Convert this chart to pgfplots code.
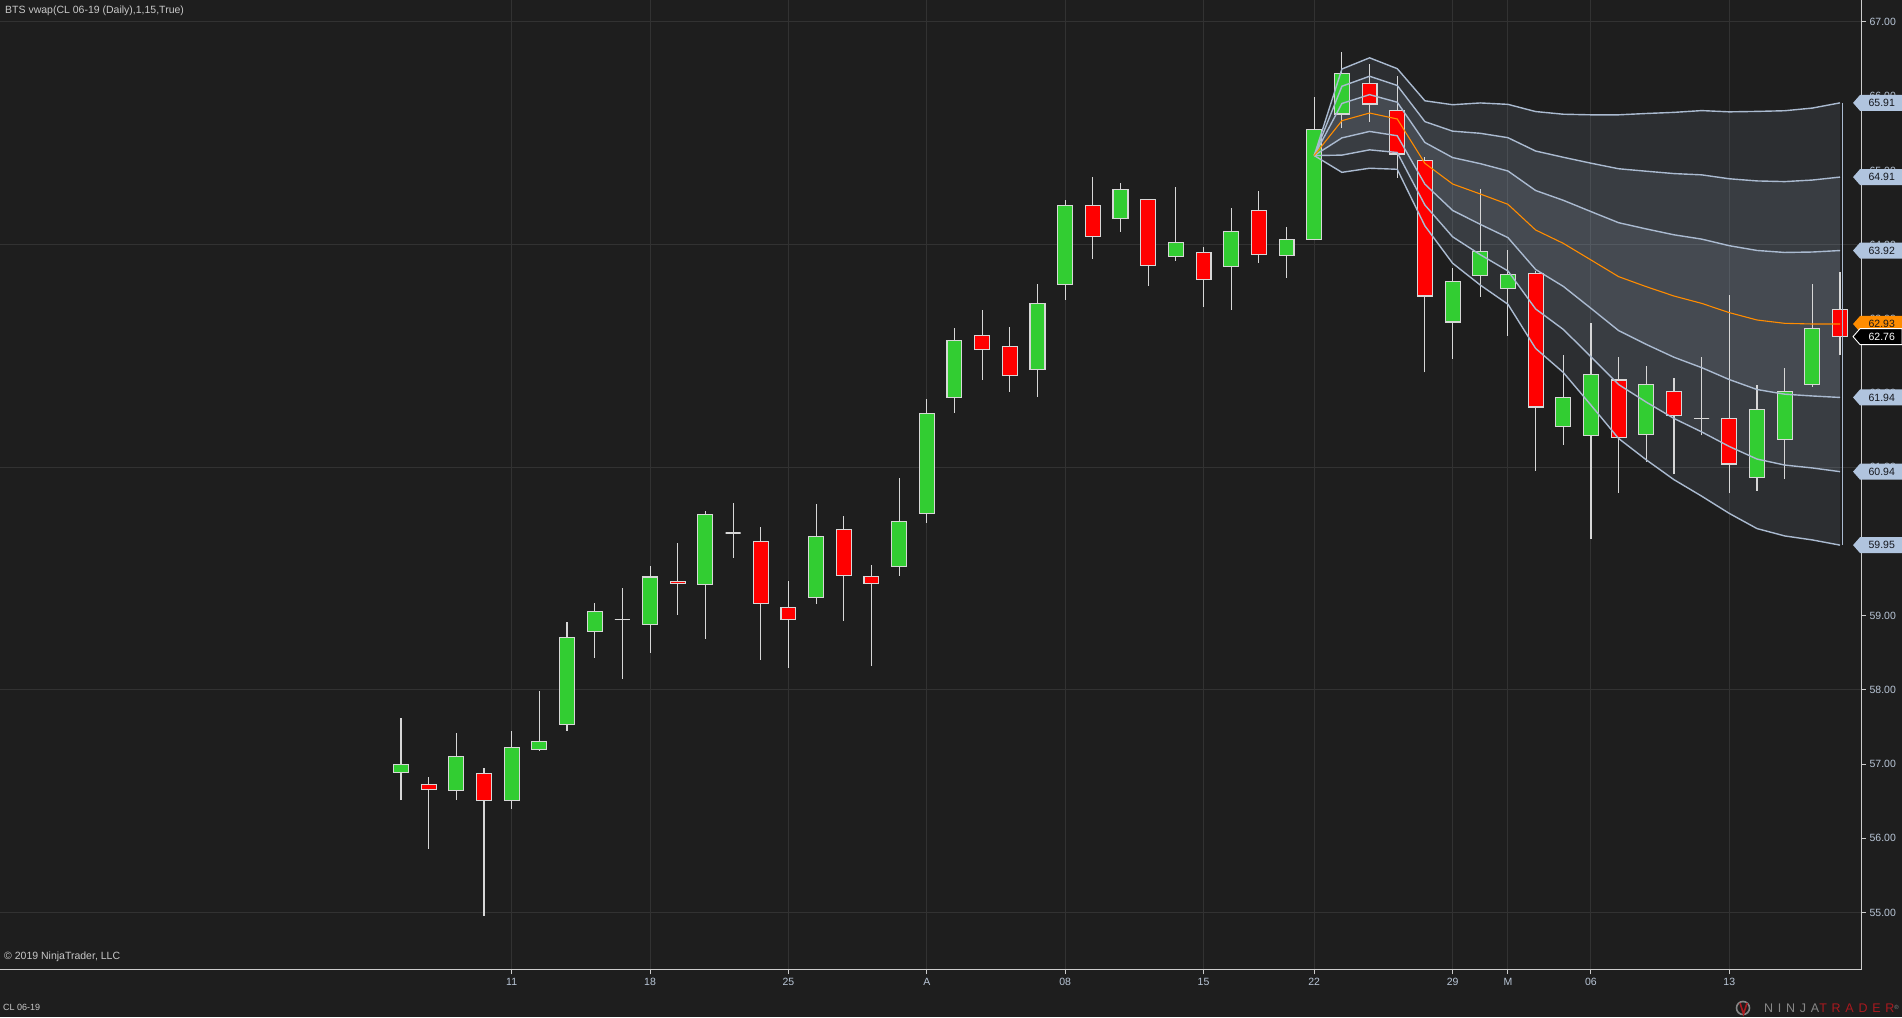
\documentclass[border=0pt]{standalone}
\usepackage{fontspec}
\setmainfont{Liberation Sans}
\newfontfamily\ntfont[LetterSpace=38]{Liberation Sans}
\usepackage{pgfplots}
\pgfplotsset{compat=1.18}
\usepackage{pgfplotstable}

\definecolor{bg}{RGB}{30,30,30}
\definecolor{gridc}{RGB}{50,50,50}
\definecolor{axisc}{RGB}{205,205,205}
\definecolor{lblc}{RGB}{185,198,215}
\definecolor{cgreen}{RGB}{50,205,50}
\definecolor{cred}{RGB}{255,0,0}
\definecolor{wick}{RGB}{215,215,215}
\definecolor{steel}{RGB}{176,196,222}
\definecolor{bandline}{RGB}{170,186,208}
\definecolor{vwapc}{RGB}{255,140,0}
\definecolor{txtc}{RGB}{200,200,200}
\definecolor{ntred}{RGB}{170,25,30}
\definecolor{ntgray}{RGB}{135,135,135}
\definecolor{tagtxt}{RGB}{20,22,28}

\pgfplotstableread{
i o h l c
0 56.890 57.620 56.515 56.995
1 56.726 56.825 55.859 56.658
2 56.645 57.418 56.515 57.103
3 56.874 56.946 54.956 56.510
4 56.510 57.445 56.398 57.224
5 57.197 57.984 57.180 57.305
6 57.534 58.913 57.449 58.707
7 58.788 59.170 58.433 59.057
8 58.950 59.370 58.150 58.950
9 58.882 59.670 58.500 59.520
10 59.455 59.980 59.010 59.430
11 59.420 60.410 58.689 60.367
12 60.113 60.517 59.780 60.113
13 60.001 60.194 58.406 59.165
14 59.111 59.466 58.298 58.950
15 59.246 60.504 59.161 60.068
16 60.163 60.342 58.932 59.543
17 59.530 59.682 58.325 59.435
18 59.664 60.850 59.538 60.270
19 60.378 61.920 60.253 61.726
20 61.940 62.876 61.735 62.710
21 62.777 63.120 62.180 62.588
22 62.630 62.890 62.020 62.238
23 62.320 63.470 61.950 63.210
24 63.465 64.600 63.260 64.530
25 64.530 64.910 63.810 64.110
26 64.354 64.830 64.170 64.745
27 64.610 64.620 63.446 63.720
28 63.840 64.776 63.783 64.030
29 63.895 63.967 63.163 63.532
30 63.707 64.493 63.123 64.179
31 64.462 64.722 63.756 63.869
32 63.855 64.237 63.554 64.071
33 64.071 65.989 64.057 65.553
34 65.760 66.596 65.576 66.308
35 66.173 66.434 65.657 65.895
36 65.809 66.272 64.902 65.221
37 65.135 65.180 62.278 63.307
38 62.957 63.684 62.463 63.505
39 63.586 64.749 63.298 63.909
40 63.410 63.927 62.773 63.600
41 63.613 63.650 60.953 61.811
42 61.551 62.512 61.304 61.942
43 61.430 62.948 60.037 62.252
44 62.175 62.485 60.657 61.402
45 61.443 62.364 61.075 62.117
46 62.023 62.202 60.908 61.700
47 61.654 62.485 61.430 61.654
48 61.654 63.321 60.648 61.043
49 60.863 62.108 60.684 61.780
50 61.376 62.337 60.841 62.023
51 62.117 63.464 62.085 62.867
52 63.123 63.626 62.512 62.760
}\ohlc

\pgfplotstableread{
i v u1 u2 u3 l1 l2 l3
33 65.200 65.200 65.200 65.200 65.200 65.200 65.200
34 65.670 65.902 66.134 66.366 65.438 65.206 64.974
35 65.773 66.021 66.269 66.517 65.525 65.277 65.029
36 65.693 65.919 66.145 66.371 65.467 65.241 65.015
37 65.095 65.376 65.657 65.938 64.814 64.533 64.252
38 64.817 65.173 65.529 65.885 64.461 64.105 63.749
39 64.682 65.091 65.500 65.909 64.273 63.864 63.455
40 64.543 64.992 65.441 65.890 64.094 63.645 63.196
41 64.197 64.729 65.261 65.793 63.665 63.133 62.601
42 64.017 64.597 65.177 65.757 63.437 62.857 62.277
43 63.793 64.445 65.097 65.749 63.141 62.489 61.837
44 63.568 64.295 65.022 65.749 62.841 62.114 61.387
45 63.433 64.211 64.989 65.767 62.655 61.877 61.099
46 63.307 64.132 64.957 65.782 62.482 61.657 60.832
47 63.208 64.074 64.940 65.806 62.342 61.476 60.610
48 63.083 63.985 64.887 65.789 62.181 61.279 60.377
49 62.984 63.921 64.858 65.795 62.047 61.110 60.173
50 62.939 63.894 64.849 65.804 61.984 61.029 60.074
51 62.930 63.900 64.870 65.840 61.960 60.990 60.020
52 62.930 63.920 64.910 65.910 61.940 60.940 59.950
}\band

\newcommand\ptag[5]{%
  \fill[#2] ([xshift=-8pt]#1) -- ([xshift=-1pt,yshift=8pt]#1) -- ([xshift=41pt,yshift=8pt]#1)
     -- ([xshift=41pt,yshift=-8pt]#1) -- ([xshift=-1pt,yshift=-8pt]#1) -- cycle;
  \ifx\relax#3\relax\else
  \draw[#3, line width=0.9pt] ([xshift=-8pt]#1) -- ([xshift=-1pt,yshift=8pt]#1) -- ([xshift=41pt,yshift=8pt]#1)
     -- ([xshift=41pt,yshift=-8pt]#1) -- ([xshift=-1pt,yshift=-8pt]#1) -- cycle;\fi
  \node[anchor=east, inner sep=0pt, text=#4, font=\fontsize{10.5}{12}\selectfont] at ([xshift=34pt]#1) {#5};
}

\begin{document}
\begin{tikzpicture}
\fill[bg] (0,0) rectangle (1902pt,1017pt);
\begin{axis}[
  at={(0pt,1017pt)}, anchor=north west,
  scale only axis, width=1861pt, height=969.5pt,
  xmin=-14.49, xmax=52.76, ymin=54.231, ymax=67.2965,
  axis x line*=bottom, axis y line*=right,
  axis line style={-, draw=axisc, line width=1.1pt},
  xtick={4,9,14,19,24,29,33,38,40,43,48},
  xticklabels={11,18,25,A,08,15,22,29,M,06,13},
  ytick={55,56,57,58,59,60,61,62,63,64,65,66,67},
  yticklabels={55.00,56.00,57.00,58.00,59.00,60.00,61.00,62.00,63.00,64.00,65.00,66.00,67.00},
  tick align=outside, major tick length=5pt,
  tick style={draw=axisc, line width=1pt},
  xmajorgrids=true,
  grid style={draw=gridc, line width=1pt},
  extra y ticks={55,58,61,64,67}, extra y tick labels={},
  extra y tick style={grid=major, major tick length=0pt},
  ticklabel style={font=\fontsize{10.5}{12}\selectfont, text=lblc},
  clip=true,
]
% VWAP band fills (upper band forward, lower band back)
\addplot[fill=steel, fill opacity=0.1, draw=none] coordinates {
(33,65.2)(34,66.366)(35,66.517)(36,66.371)(37,65.938)(38,65.885)(39,65.909)(40,65.890)(41,65.793)(42,65.757)(43,65.749)(44,65.749)(45,65.767)(46,65.782)(47,65.806)(48,65.789)(49,65.795)(50,65.804)(51,65.840)(52,65.910)
(52,59.950)(51,60.020)(50,60.074)(49,60.173)(48,60.377)(47,60.610)(46,60.832)(45,61.099)(44,61.387)(43,61.837)(42,62.277)(41,62.601)(40,63.196)(39,63.455)(38,63.749)(37,64.252)(36,65.015)(35,65.029)(34,64.974)(33,65.2)};
\addplot[fill=steel, fill opacity=0.1, draw=none] coordinates {
(33,65.2)(34,66.134)(35,66.269)(36,66.145)(37,65.657)(38,65.529)(39,65.500)(40,65.441)(41,65.261)(42,65.177)(43,65.097)(44,65.022)(45,64.989)(46,64.957)(47,64.940)(48,64.887)(49,64.858)(50,64.849)(51,64.870)(52,64.910)
(52,60.940)(51,60.990)(50,61.029)(49,61.110)(48,61.279)(47,61.476)(46,61.657)(45,61.877)(44,62.114)(43,62.489)(42,62.857)(41,63.133)(40,63.645)(39,63.864)(38,64.105)(37,64.533)(36,65.241)(35,65.277)(34,65.206)(33,65.2)};
\addplot[fill=steel, fill opacity=0.1, draw=none] coordinates {
(33,65.2)(34,65.902)(35,66.021)(36,65.919)(37,65.376)(38,65.173)(39,65.091)(40,64.992)(41,64.729)(42,64.597)(43,64.445)(44,64.295)(45,64.211)(46,64.132)(47,64.074)(48,63.985)(49,63.921)(50,63.894)(51,63.900)(52,63.920)
(52,61.940)(51,61.960)(50,61.984)(49,62.047)(48,62.181)(47,62.342)(46,62.482)(45,62.655)(44,62.841)(43,63.141)(42,63.437)(41,63.665)(40,64.094)(39,64.273)(38,64.461)(37,64.814)(36,65.467)(35,65.525)(34,65.438)(33,65.2)};

% candles: wick then body, one pair of plots per row of the table
\pgfplotsforeachungrouped \rr in {0,...,52}{
  \pgfplotstablegetelem{\rr}{i}\of\ohlc \edef\vi{\pgfplotsretval}
  \pgfplotstablegetelem{\rr}{o}\of\ohlc \edef\vo{\pgfplotsretval}
  \pgfplotstablegetelem{\rr}{h}\of\ohlc \edef\vh{\pgfplotsretval}
  \pgfplotstablegetelem{\rr}{l}\of\ohlc \edef\vl{\pgfplotsretval}
  \pgfplotstablegetelem{\rr}{c}\of\ohlc \edef\vc{\pgfplotsretval}
  \pgfmathsetmacro\xa{\vi-0.27}
  \pgfmathsetmacro\xb{\vi+0.27}
  \ifdim\vc pt>\vo pt \def\bc{cgreen}\else\ifdim\vc pt<\vo pt \def\bc{cred}\else\def\bc{wick}\fi\fi
  \edef\doit{%
    \noexpand\addplot[draw=wick, line width=1.1pt] coordinates {(\vi,\vl) (\vi,\vh)};
    \noexpand\addplot[draw=wick, line width=1.1pt, fill=\bc, line join=miter]
       coordinates {(\xa,\vo) (\xb,\vo) (\xb,\vc) (\xa,\vc)} -- cycle;}
  \doit
}

% band lines
\addplot[bandline, line width=1.4pt] table[x=i, y=u3] {\band};
\addplot[bandline, line width=1.4pt] table[x=i, y=u2] {\band};
\addplot[bandline, line width=1.4pt] table[x=i, y=u1] {\band};
\addplot[bandline, line width=1.4pt] table[x=i, y=l1] {\band};
\addplot[bandline, line width=1.4pt] table[x=i, y=l2] {\band};
\addplot[bandline, line width=1.4pt] table[x=i, y=l3] {\band};
\addplot[vwapc, line width=1.1pt] table[x=i, y=v] {\band};
\addplot[bandline, line width=1.2pt] coordinates {(52.1,65.91) (52.1,59.95)};

\coordinate (T1) at (axis cs:52.76,65.91);
\coordinate (T2) at (axis cs:52.76,64.91);
\coordinate (T3) at (axis cs:52.76,63.92);
\coordinate (T4) at (axis cs:52.76,62.93);
\coordinate (T5) at (axis cs:52.76,62.76);
\coordinate (T6) at (axis cs:52.76,61.94);
\coordinate (T7) at (axis cs:52.76,60.94);
\coordinate (T8) at (axis cs:52.76,59.95);
\end{axis}

\ptag{T1}{steel}{}{tagtxt}{65.91}
\ptag{T2}{steel}{}{tagtxt}{64.91}
\ptag{T3}{steel}{}{tagtxt}{63.92}
\ptag{T6}{steel}{}{tagtxt}{61.94}
\ptag{T7}{steel}{}{tagtxt}{60.94}
\ptag{T8}{steel}{}{tagtxt}{59.95}
\ptag{T4}{vwapc}{}{tagtxt}{62.93}
\ptag{T5}{black}{white}{white}{62.76}

\node[anchor=west, inner sep=0pt, text=txtc, font=\fontsize{10.5}{12}\selectfont] at (5pt,1006.5pt) {BTS vwap(CL 06-19 (Daily),1,15,True)};
\node[anchor=west, inner sep=0pt, text=txtc, font=\fontsize{10.5}{12}\selectfont] at (4pt,60pt) {© 2019 NinjaTrader, LLC};
\node[anchor=west, inner sep=0pt, text=txtc, font=\fontsize{9}{11}\selectfont] at (3pt,10pt) {CL 06-19};
\draw[ntgray, line width=1.6pt] (1743pt,9pt) circle (6.5pt);
\draw[ntred, line width=1.6pt] (1740pt,14pt) -- (1743.5pt,3pt) -- (1747pt,14pt);
\node[anchor=east, inner sep=0pt, font=\ntfont\fontsize{12.5}{14}\selectfont] at (1899pt,9pt)
  {\textcolor{ntgray}{NINJA}\textcolor{ntred}{TRADER}\textcolor{ntgray}{\fontsize{6}{7}\selectfont\raisebox{3pt}{®}}};
\pgfresetboundingbox
\path[use as bounding box] (0,0) rectangle (1902pt,1017pt);
\end{tikzpicture}
\end{document}
